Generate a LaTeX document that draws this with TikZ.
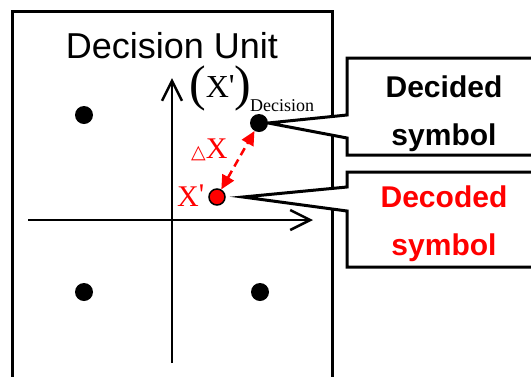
\documentclass[tikz,border=0pt]{standalone}
\usepackage{fontspec}
\setmainfont{Liberation Serif}
\newfontfamily\arialfont{Liberation Sans}
\newfontfamily\symfont{DejaVu Sans}
\usetikzlibrary{arrows.meta,positioning}

\tikzset{
  dot/.style={circle,fill=black,inner sep=0pt,minimum size=18pt},
  reddot/.style={circle,fill=red,draw=black,line width=1.5pt,inner sep=0pt,minimum size=16pt},
  axis/.style={line width=2.5pt,-{Straight Barb[length=20pt,width=20pt]}},
  callout/.style={line width=3pt,fill=white,line join=miter},
  calltext/.style={font={\arialfont\bfseries\fontsize{30pt}{48pt}\selectfont},align=center},
  lbl/.style={inner sep=0pt,anchor=base west}
}
\newcommand{\bigparen}[1]{\raisebox{-3pt}{\fontsize{50pt}{50pt}\selectfont#1}}

\begin{document}
\begin{tikzpicture}[x=1pt,y=-1pt]
  \useasboundingbox (0,0) rectangle (531,376);
  \clip (0,0) rectangle (531,376);
  % Decision unit frame
  \draw[line width=3pt] (12,400) -- (12,11) -- (332,11) -- (332,400);
  \node[inner sep=0pt,anchor=base,text depth=0pt,font={\arialfont\fontsize{36pt}{36pt}\selectfont}] (title) at (172,58) {Decision Unit};
  % Axes
  \coordinate (xs) at (28,220);
  \coordinate (xe) at (313,220);
  \coordinate (ys) at (172,363);
  \coordinate (ye) at (172,78);
  \draw[axis] (xs) -- (xe);
  \draw[axis] (ys) -- (ye);
  % Constellation points
  \node[dot] (q1) at (84,115) {};
  \node[dot] (q3) at (84,292) {};
  \node[dot] (q4) at (260,292) {};
  \node[dot] (dec) at (259,123) {};
  \node[reddot] (rx) at (217,197) {};
  % Labels
  \node[lbl,text height=32pt] (xdec) at (189,97) {\bigparen{(}{\fontsize{32pt}{32pt}\selectfont X\raisebox{1pt}{\textquotesingle}}\bigparen{)}};
  \node[lbl,font={\fontsize{18pt}{18pt}\selectfont}] (sub) at (250,111) {Decision};
  \node[lbl,red,font={\fontsize{30pt}{30pt}\selectfont}] (xlab) at (177,206) {X\raisebox{2pt}{\textquotesingle}};
  \node[lbl,red] (dx) at (191,158) {{\symfont\fontsize{19pt}{19pt}\selectfont △}{\fontsize{30pt}{30pt}\selectfont X}};
  % Error vector
  \draw[red,line width=2.5pt,dash pattern=on 8pt off 5pt,{Triangle[length=14pt,width=13pt]}-{Triangle[length=14pt,width=13pt]}] (rx) -- (dec);
  % Callouts
  \coordinate (tip2) at (243,197);
  \draw[callout] (347,58) -- (347,115) -- (dec.east) -- (347,138) -- (347,155) -- (560,155) -- (560,58) -- cycle;
  \draw[callout] (347,172) -- (347,187) -- (tip2) -- (347,211) -- (347,267) -- (560,267) -- (560,172) -- cycle;
  \node[calltext] (decided) at (444,113.5) {Decided\\symbol};
  \node[calltext,red] (decoded) at (444,223.5) {Decoded\\symbol};
\end{tikzpicture}
\end{document}
